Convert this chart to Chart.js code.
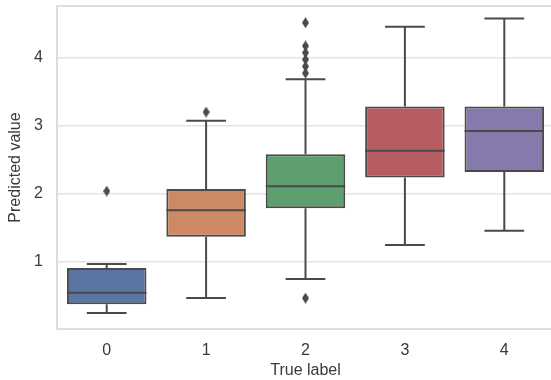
<!DOCTYPE html>
<html>
<head>
<meta charset="utf-8">
<script src="https://cdn.jsdelivr.net/npm/chart.js@4.4.1/dist/chart.umd.min.js"></script>
<style>
  html, body { margin: 0; padding: 0; background: #ffffff; overflow: hidden; }
  #wrap { width: 551px; height: 380px; overflow: hidden; }
  canvas { display: block; }
</style>
</head>
<body>
<div id="wrap"><canvas id="boxChart" width="560" height="380"></canvas></div>
<script>
// ---------------- Data -------------------------------------------------------
const labels     = [ "0", "1", "2", "3", "4" ] ;
const q1Values   = [ 0.38, 1.37, 1.79, 2.24, 2.32 ] ;
const q3Values   = [ 0.91, 2.07, 2.58, 3.28, 3.28 ] ;
const medians    = [ 0.55, 1.76, 2.11, 2.63, 2.92 ] ;
const whiskerLow = [ 0.25, 0.47, 0.75, 1.25, 1.46 ] ;
const whiskerHigh= [ 0.97, 3.07, 3.68, 4.45, 4.57 ] ;
const outlierCat = [ "0", "1", "2", "2", "2", "2", "2", "2", "2" ] ;
const outlierY   = [ 2.04, 3.20, 4.51, 4.17, 4.07, 3.97, 3.87, 3.77, 0.47 ] ;
const yTicks     = [ 1, 2, 3, 4 ] ;

// ---------------- Styles -----------------------------------------------------
const BOX_COLORS = [ '#5875a4', '#cc8963', '#5f9e6e', '#b55d60', '#857aab' ] ;
const LINE_COLOR = '#4a4a4a' ;
const GRID_COLOR = '#e3e3e3' ;
const FRAME_COLOR = '#d4d4d4' ;
const TEXT_COLOR = '#3a3a3a' ;
const FONT_FAMILY = '"Liberation Sans", Arial, sans-serif' ;

// thin diamond marker, like matplotlib's "d"
function makeDiamond( w, h ) {
    var c = document.createElement( 'canvas' ) ;
    c.width = w ;
    c.height = h ;
    var g = c.getContext( '2d' ) ;
    g.fillStyle = LINE_COLOR ;
    g.beginPath() ;
    g.moveTo( w / 2, 0 ) ;
    g.lineTo( w, h / 2 ) ;
    g.lineTo( w / 2, h ) ;
    g.lineTo( 0, h / 2 ) ;
    g.closePath() ;
    g.fill() ;
    return c ;
}

// Whiskers behind the boxes, medians and frame on top
const boxPartsPlugin = {
    id : 'boxParts',
    beforeDatasetsDraw : function( chart ) {
        const ctx = chart.ctx ;
        const x = chart.scales.x ;
        const y = chart.scales.y ;
        const capHalf = ( x.getPixelForValue( 1 ) - x.getPixelForValue( 0 ) ) * 0.2 ;
        ctx.save() ;
        ctx.strokeStyle = LINE_COLOR ;
        ctx.lineWidth = 2 ;
        for( var i = 0; i < labels.length; i++ ) {
            const cx = x.getPixelForValue( i ) ;
            ctx.beginPath() ;
            ctx.moveTo( cx, y.getPixelForValue( whiskerLow[i] ) ) ;
            ctx.lineTo( cx, y.getPixelForValue( q1Values[i] ) ) ;
            ctx.moveTo( cx, y.getPixelForValue( q3Values[i] ) ) ;
            ctx.lineTo( cx, y.getPixelForValue( whiskerHigh[i] ) ) ;
            ctx.moveTo( cx - capHalf, y.getPixelForValue( whiskerLow[i] ) ) ;
            ctx.lineTo( cx + capHalf, y.getPixelForValue( whiskerLow[i] ) ) ;
            ctx.moveTo( cx - capHalf, y.getPixelForValue( whiskerHigh[i] ) ) ;
            ctx.lineTo( cx + capHalf, y.getPixelForValue( whiskerHigh[i] ) ) ;
            ctx.stroke() ;
        }
        ctx.restore() ;
    },
    afterDatasetsDraw : function( chart ) {
        const ctx = chart.ctx ;
        const x = chart.scales.x ;
        const y = chart.scales.y ;
        const boxHalf = ( x.getPixelForValue( 1 ) - x.getPixelForValue( 0 ) ) * 0.4 ;
        ctx.save() ;
        ctx.strokeStyle = LINE_COLOR ;
        ctx.lineWidth = 2 ;
        for( var i = 0; i < labels.length; i++ ) {
            const cx = x.getPixelForValue( i ) ;
            const my = y.getPixelForValue( medians[i] ) ;
            ctx.beginPath() ;
            ctx.moveTo( cx - boxHalf, my ) ;
            ctx.lineTo( cx + boxHalf, my ) ;
            ctx.stroke() ;
        }
        const a = chart.chartArea ;
        ctx.strokeStyle = FRAME_COLOR ;
        ctx.lineWidth = 1.5 ;
        ctx.strokeRect( a.left, a.top, a.right - a.left, a.bottom - a.top ) ;
        ctx.restore() ;
    }
} ;

const boxData = q1Values.map( function( v, i ) { return [ v, q3Values[i] ] ; } ) ;
const outlierData = outlierCat.map( function( c, i ) { return { x : c, y : outlierY[i] } ; } ) ;

new Chart( document.getElementById( 'boxChart' ), {
    data : {
        labels : labels,
        datasets : [
            {
                type : 'scatter',
                data : outlierData,
                pointStyle : makeDiamond( 7, 11 ),
                radius : 5,
                order : 0
            },
            {
                type : 'bar',
                data : boxData,
                backgroundColor : BOX_COLORS,
                borderColor : LINE_COLOR,
                borderWidth : 2,
                borderSkipped : false,
                barPercentage : 0.8,
                categoryPercentage : 1.0,
                order : 1
            }
        ]
    },
    options : {
        responsive : false,
        animation : false,
        events : [],
        layout : { padding : { left : 0, top : 3, right : 2, bottom : 0 } },
        plugins : {
            legend : { display : false },
            tooltip : { enabled : false }
        },
        scales : {
            x : {
                type : 'category',
                offset : true,
                grid : { display : false, drawTicks : false },
                border : { display : false },
                ticks : {
                    padding : 12,
                    color : TEXT_COLOR,
                    font : { family : FONT_FAMILY, size : 16 }
                },
                title : {
                    display : true,
                    text : 'True label',
                    color : TEXT_COLOR,
                    padding : { top : 0, bottom : 0 },
                    font : { family : FONT_FAMILY, size : 16 }
                },
                afterFit : function( scale ) {
                    scale.height = 51 ;
                    scale.paddingLeft = 0 ;
                    scale.paddingRight = 0 ;
                }
            },
            y : {
                type : 'linear',
                min : 0.017,
                max : 4.755,
                grid : { color : GRID_COLOR, lineWidth : 1.5, drawTicks : false },
                border : { display : false },
                afterBuildTicks : function( scale ) {
                    scale.ticks = yTicks.map( function( v ) { return { value : v } ; } ) ;
                },
                ticks : {
                    padding : 14,
                    color : TEXT_COLOR,
                    font : { family : FONT_FAMILY, size : 16 }
                },
                title : {
                    display : true,
                    text : 'Predicted value',
                    color : TEXT_COLOR,
                    padding : { top : 6, bottom : 0 },
                    font : { family : FONT_FAMILY, size : 16 }
                },
                afterFit : function( scale ) {
                    scale.width = 57 ;
                    scale.paddingTop = 0 ;
                    scale.paddingBottom = 0 ;
                }
            }
        }
    },
    plugins : [ boxPartsPlugin ]
} ) ;
</script>
</body>
</html>
